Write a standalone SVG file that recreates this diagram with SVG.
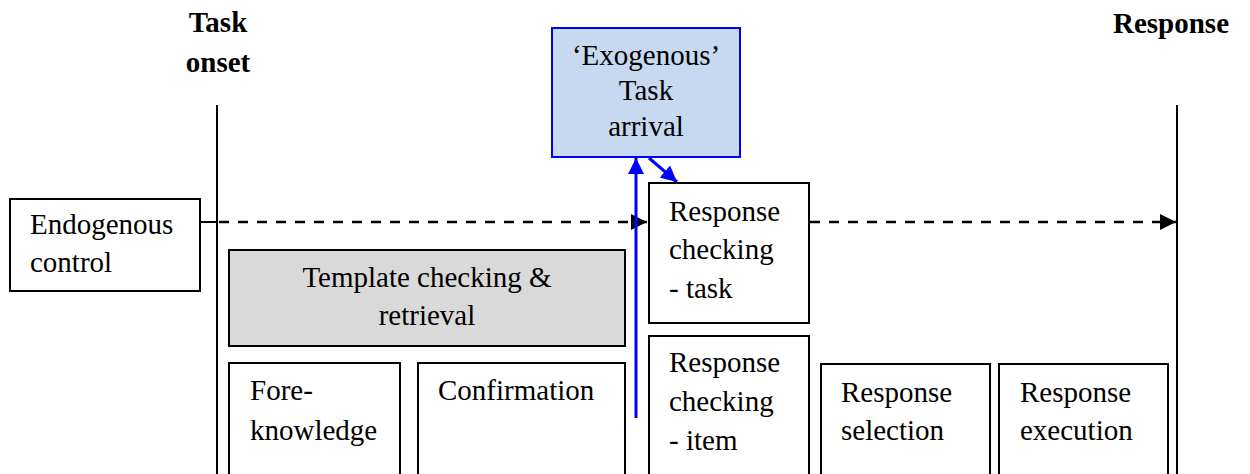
<svg xmlns="http://www.w3.org/2000/svg" width="1250" height="474" viewBox="0 0 1250 474">
<defs>
<style>
text{font-family:"Liberation Serif","Times New Roman",serif;font-size:29px;fill:#000}
.b{font-weight:bold}
.c{text-anchor:middle}
.box{fill:#fff;stroke:#000;stroke-width:2}
.gray{fill:#d9d9d9;stroke:#000;stroke-width:2}
.blue{fill:#c6d9f0;stroke:#0000ff;stroke-width:2}
.dash{stroke:#000;stroke-width:2.5;stroke-dasharray:10 9;fill:none}
.vl{stroke:#000;stroke-width:2;fill:none}
.bl{stroke:#0000ff;stroke-width:3;fill:none}
</style>
<marker id="ab" viewBox="0 0 10 10" refX="10" refY="5" markerWidth="16" markerHeight="16" markerUnits="userSpaceOnUse" orient="auto"><path d="M0,0 L10,5 L0,10 z" fill="#000"/></marker>
<marker id="au" viewBox="0 0 10 10" refX="10" refY="5" markerWidth="16" markerHeight="16" markerUnits="userSpaceOnUse" orient="auto"><path d="M0,0 L10,5 L0,10 z" fill="#0000ff"/></marker>
</defs>
<g id="labels">
<text class="b c" x="218" y="32">Task</text>
<text class="b c" x="218" y="72">onset</text>
<text class="b c" x="1171" y="33">Response</text>
</g>
<g id="timelines">
<line class="vl" x1="217" y1="105" x2="217" y2="474"/>
<line class="vl" x1="1177" y1="105" x2="1177" y2="474"/>
</g>
<g id="connectors">
<line class="vl" x1="200" y1="222" x2="217" y2="222"/>
<line class="dash" x1="219" y1="222" x2="647" y2="222" marker-end="url(#ab)"/>
<line class="dash" x1="810" y1="222" x2="1176" y2="222" marker-end="url(#ab)"/>
<line class="bl" x1="636" y1="418" x2="636" y2="158" marker-end="url(#au)"/>
<line class="bl" x1="649" y1="158" x2="677" y2="182" marker-end="url(#au)"/>
</g>
<g id="exogenous">
<rect class="blue" x="552" y="28" width="188" height="129"/>
<text class="c" x="646" y="65">‘Exogenous’</text>
<text class="c" x="646" y="100">Task</text>
<text class="c" x="646" y="136">arrival</text>
</g>
<g id="endogenous">
<rect class="box" x="10" y="199" width="190" height="92"/>
<text x="30" y="234">Endogenous</text>
<text x="30" y="272">control</text>
</g>
<g id="template">
<rect class="gray" x="229" y="250" width="396" height="96"/>
<text class="c" x="427" y="287">Template checking &amp;</text>
<text class="c" x="427" y="325">retrieval</text>
</g>
<g id="foreknowledge">
<rect class="box" x="229" y="363" width="171" height="120"/>
<text x="250" y="400">Fore-</text>
<text x="250" y="440">knowledge</text>
</g>
<g id="confirmation">
<rect class="box" x="418" y="363" width="207" height="120"/>
<text x="438" y="400">Confirmation</text>
</g>
<g id="rc-task">
<rect class="box" x="649" y="183" width="160" height="140"/>
<text x="669" y="221">Response</text>
<text x="669" y="259">checking</text>
<text x="669" y="298">- task</text>
</g>
<g id="rc-item">
<rect class="box" x="649" y="336" width="160" height="150"/>
<text x="669" y="372">Response</text>
<text x="669" y="411">checking</text>
<text x="669" y="450">- item</text>
</g>
<g id="selection">
<rect class="box" x="821" y="364" width="169" height="120"/>
<text x="841" y="402">Response</text>
<text x="841" y="440">selection</text>
</g>
<g id="execution">
<rect class="box" x="999" y="364" width="169" height="120"/>
<text x="1020" y="402">Response</text>
<text x="1020" y="440">execution</text>
</g>
</svg>
